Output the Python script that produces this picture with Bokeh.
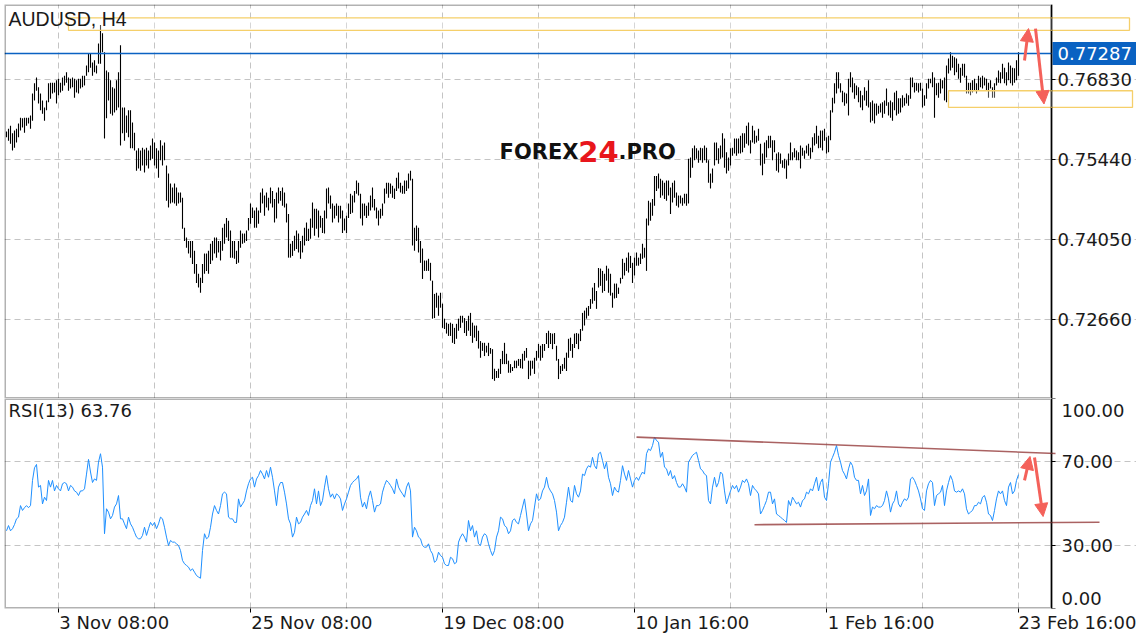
from bokeh.plotting import figure
from bokeh.layouts import column
from bokeh.models import (ColumnDataSource, FixedTicker, Range1d, Label, Arrow,
                          NormalHead, PolyAnnotation, BoxAnnotation, NumeralTickFormatter,
                          Grid, GlobalInlineStyleSheet)
from bokeh.embed import file_html
from bokeh.resources import INLINE

SYMBOL = "AUDUSD, H4"
LAST_CLOSE = 0.77287
RSI_LAST = 63.76

HIGH = [
    0.7593, 0.7598, 0.7603, 0.7590, 0.7595, 0.7598, 0.7607, 0.7617, 0.7616, 0.7617,
    0.7617, 0.7617, 0.7621, 0.7659, 0.7677, 0.7687, 0.7670, 0.7659, 0.7647, 0.7635,
    0.7647, 0.7677, 0.7678, 0.7678, 0.7678, 0.7682, 0.7685, 0.7678, 0.7687, 0.7690,
    0.7696, 0.7687, 0.7685, 0.7687, 0.7685, 0.7682, 0.7685, 0.7685, 0.7690, 0.7690,
    0.7708, 0.7729, 0.7729, 0.7713, 0.7717, 0.7708, 0.7746, 0.7778, 0.7764, 0.7731,
    0.7699, 0.7696, 0.7682, 0.7670, 0.7668, 0.7682, 0.7696, 0.7743, 0.7635, 0.7635,
    0.7621, 0.7630, 0.7630, 0.7609, 0.7591, 0.7560, 0.7564, 0.7560, 0.7565, 0.7562,
    0.7565, 0.7560, 0.7569, 0.7581, 0.7574, 0.7564, 0.7560, 0.7578, 0.7569, 0.7574,
    0.7534, 0.7520, 0.7503, 0.7496, 0.7503, 0.7496, 0.7487, 0.7487, 0.7478, 0.7426,
    0.7409, 0.7403, 0.7403, 0.7403, 0.7386, 0.7363, 0.7346, 0.7339, 0.7363, 0.7381,
    0.7381, 0.7386, 0.7398, 0.7403, 0.7409, 0.7409, 0.7403, 0.7403, 0.7426, 0.7433,
    0.7443, 0.7438, 0.7421, 0.7403, 0.7403, 0.7386, 0.7403, 0.7421, 0.7416, 0.7416,
    0.7421, 0.7443, 0.7468, 0.7461, 0.7456, 0.7461, 0.7456, 0.7487, 0.7494, 0.7482,
    0.7487, 0.7478, 0.7496, 0.7490, 0.7476, 0.7487, 0.7496, 0.7490, 0.7496, 0.7487,
    0.7468, 0.7450, 0.7398, 0.7403, 0.7412, 0.7421, 0.7416, 0.7403, 0.7412, 0.7426,
    0.7435, 0.7424, 0.7442, 0.7470, 0.7459, 0.7459, 0.7456, 0.7447, 0.7443, 0.7456,
    0.7494, 0.7496, 0.7482, 0.7468, 0.7464, 0.7468, 0.7464, 0.7464, 0.7456, 0.7442,
    0.7447, 0.7468, 0.7485, 0.7482, 0.7490, 0.7508, 0.7504, 0.7485, 0.7468, 0.7468,
    0.7464, 0.7470, 0.7482, 0.7496, 0.7476, 0.7461, 0.7456, 0.7459, 0.7468, 0.7494,
    0.7504, 0.7504, 0.7503, 0.7499, 0.7494, 0.7513, 0.7522, 0.7504, 0.7499, 0.7508,
    0.7508, 0.7520, 0.7525, 0.7511, 0.7426, 0.7430, 0.7426, 0.7403, 0.7390, 0.7369,
    0.7369, 0.7372, 0.7365, 0.7334, 0.7311, 0.7313, 0.7308, 0.7313, 0.7294, 0.7268,
    0.7261, 0.7259, 0.7261, 0.7259, 0.7252, 0.7259, 0.7268, 0.7273, 0.7273, 0.7269,
    0.7264, 0.7273, 0.7278, 0.7261, 0.7256, 0.7256, 0.7247, 0.7229, 0.7226, 0.7226,
    0.7221, 0.7226, 0.7217, 0.7215, 0.7181, 0.7177, 0.7181, 0.7198, 0.7212, 0.7226,
    0.7207, 0.7195, 0.7189, 0.7184, 0.7195, 0.7195, 0.7198, 0.7198, 0.7207, 0.7212,
    0.7217, 0.7195, 0.7195, 0.7195, 0.7200, 0.7212, 0.7224, 0.7221, 0.7224, 0.7224,
    0.7243, 0.7247, 0.7243, 0.7242, 0.7243, 0.7221, 0.7198, 0.7186, 0.7189, 0.7200,
    0.7209, 0.7233, 0.7235, 0.7224, 0.7242, 0.7243, 0.7242, 0.7250, 0.7278, 0.7282,
    0.7287, 0.7290, 0.7302, 0.7322, 0.7330, 0.7316, 0.7356, 0.7355, 0.7351, 0.7346,
    0.7360, 0.7355, 0.7346, 0.7313, 0.7329, 0.7329, 0.7322, 0.7339, 0.7372, 0.7365,
    0.7374, 0.7383, 0.7377, 0.7365, 0.7374, 0.7383, 0.7374, 0.7381, 0.7398, 0.7391,
    0.7442, 0.7473, 0.7470, 0.7476, 0.7516, 0.7516, 0.7520, 0.7511, 0.7508, 0.7504,
    0.7508, 0.7508, 0.7496, 0.7504, 0.7508, 0.7487, 0.7482, 0.7482, 0.7478, 0.7485,
    0.7485, 0.7546, 0.7548, 0.7564, 0.7569, 0.7564, 0.7560, 0.7565, 0.7564, 0.7569,
    0.7565, 0.7543, 0.7520, 0.7529, 0.7574, 0.7574, 0.7564, 0.7569, 0.7590, 0.7581,
    0.7557, 0.7548, 0.7564, 0.7565, 0.7581, 0.7581, 0.7581, 0.7586, 0.7590, 0.7590,
    0.7603, 0.7609, 0.7578, 0.7603, 0.7595, 0.7586, 0.7598, 0.7572, 0.7555, 0.7574,
    0.7578, 0.7586, 0.7586, 0.7578, 0.7578, 0.7555, 0.7557, 0.7555, 0.7543, 0.7546,
    0.7543, 0.7555, 0.7574, 0.7557, 0.7564, 0.7560, 0.7557, 0.7569, 0.7565, 0.7560,
    0.7569, 0.7572, 0.7565, 0.7583, 0.7590, 0.7603, 0.7586, 0.7595, 0.7595, 0.7598,
    0.7583, 0.7586, 0.7630, 0.7652, 0.7677, 0.7696, 0.7696, 0.7677, 0.7664, 0.7661,
    0.7659, 0.7685, 0.7696, 0.7687, 0.7677, 0.7673, 0.7670, 0.7664, 0.7656, 0.7670,
    0.7664, 0.7682, 0.7644, 0.7647, 0.7642, 0.7642, 0.7638, 0.7642, 0.7644, 0.7647,
    0.7668, 0.7644, 0.7647, 0.7644, 0.7661, 0.7664, 0.7651, 0.7651, 0.7656, 0.7652,
    0.7659, 0.7656, 0.7687, 0.7687, 0.7678, 0.7678, 0.7677, 0.7678, 0.7668, 0.7656,
    0.7677, 0.7685, 0.7685, 0.7696, 0.7687, 0.7677, 0.7678, 0.7685, 0.7682, 0.7687,
    0.7708, 0.7720, 0.7731, 0.7725, 0.7722, 0.7720, 0.7711, 0.7704, 0.7711, 0.7711,
    0.7690, 0.7678, 0.7678, 0.7682, 0.7685, 0.7677, 0.7690, 0.7687, 0.7690, 0.7687,
    0.7685, 0.7678, 0.7682, 0.7670, 0.7677, 0.7687, 0.7699, 0.7696, 0.7711, 0.7704,
    0.7696, 0.7713, 0.7708, 0.7704, 0.7703, 0.7717, 0.7731,
]

LOW = [
    0.7583, 0.7577, 0.7572, 0.7560, 0.7565, 0.7574, 0.7583, 0.7595, 0.7600, 0.7591,
    0.7603, 0.7607, 0.7598, 0.7612, 0.7647, 0.7664, 0.7642, 0.7630, 0.7624, 0.7612,
    0.7630, 0.7644, 0.7650, 0.7659, 0.7661, 0.7642, 0.7656, 0.7661, 0.7664, 0.7673,
    0.7678, 0.7664, 0.7668, 0.7670, 0.7652, 0.7661, 0.7659, 0.7668, 0.7670, 0.7673,
    0.7690, 0.7696, 0.7704, 0.7690, 0.7696, 0.7694, 0.7711, 0.7711, 0.7731, 0.7581,
    0.7616, 0.7647, 0.7624, 0.7621, 0.7626, 0.7630, 0.7635, 0.7569, 0.7590, 0.7577,
    0.7591, 0.7583, 0.7564, 0.7564, 0.7560, 0.7525, 0.7529, 0.7525, 0.7534, 0.7522,
    0.7534, 0.7529, 0.7543, 0.7546, 0.7534, 0.7529, 0.7513, 0.7543, 0.7534, 0.7543,
    0.7473, 0.7461, 0.7468, 0.7470, 0.7468, 0.7464, 0.7468, 0.7470, 0.7424, 0.7403,
    0.7391, 0.7381, 0.7374, 0.7363, 0.7346, 0.7330, 0.7322, 0.7313, 0.7330, 0.7346,
    0.7351, 0.7346, 0.7363, 0.7369, 0.7381, 0.7374, 0.7383, 0.7369, 0.7386, 0.7398,
    0.7409, 0.7403, 0.7374, 0.7374, 0.7372, 0.7363, 0.7365, 0.7391, 0.7398, 0.7400,
    0.7403, 0.7421, 0.7433, 0.7443, 0.7426, 0.7426, 0.7433, 0.7452, 0.7468, 0.7447,
    0.7461, 0.7456, 0.7468, 0.7461, 0.7435, 0.7442, 0.7468, 0.7473, 0.7464, 0.7461,
    0.7435, 0.7374, 0.7374, 0.7377, 0.7386, 0.7389, 0.7383, 0.7372, 0.7383, 0.7395,
    0.7403, 0.7403, 0.7407, 0.7426, 0.7412, 0.7424, 0.7409, 0.7426, 0.7417, 0.7416,
    0.7442, 0.7468, 0.7459, 0.7435, 0.7442, 0.7447, 0.7435, 0.7442, 0.7417, 0.7421,
    0.7417, 0.7443, 0.7450, 0.7452, 0.7470, 0.7485, 0.7482, 0.7442, 0.7430, 0.7447,
    0.7443, 0.7447, 0.7456, 0.7461, 0.7456, 0.7442, 0.7430, 0.7442, 0.7447, 0.7468,
    0.7485, 0.7478, 0.7485, 0.7478, 0.7476, 0.7490, 0.7494, 0.7487, 0.7485, 0.7485,
    0.7490, 0.7494, 0.7508, 0.7395, 0.7386, 0.7403, 0.7383, 0.7365, 0.7337, 0.7351,
    0.7351, 0.7351, 0.7334, 0.7268, 0.7269, 0.7287, 0.7273, 0.7287, 0.7252, 0.7250,
    0.7242, 0.7238, 0.7238, 0.7226, 0.7224, 0.7233, 0.7247, 0.7252, 0.7261, 0.7243,
    0.7238, 0.7247, 0.7238, 0.7226, 0.7235, 0.7229, 0.7216, 0.7200, 0.7212, 0.7203,
    0.7209, 0.7203, 0.7207, 0.7163, 0.7160, 0.7165, 0.7165, 0.7172, 0.7189, 0.7189,
    0.7189, 0.7174, 0.7174, 0.7177, 0.7182, 0.7182, 0.7186, 0.7182, 0.7181, 0.7195,
    0.7200, 0.7163, 0.7169, 0.7181, 0.7172, 0.7195, 0.7200, 0.7195, 0.7200, 0.7212,
    0.7224, 0.7217, 0.7224, 0.7215, 0.7224, 0.7195, 0.7163, 0.7172, 0.7177, 0.7181,
    0.7177, 0.7200, 0.7212, 0.7200, 0.7217, 0.7224, 0.7215, 0.7229, 0.7247, 0.7256,
    0.7268, 0.7273, 0.7285, 0.7294, 0.7299, 0.7285, 0.7322, 0.7325, 0.7313, 0.7316,
    0.7334, 0.7313, 0.7308, 0.7287, 0.7303, 0.7304, 0.7311, 0.7329, 0.7337, 0.7343,
    0.7351, 0.7348, 0.7356, 0.7330, 0.7343, 0.7360, 0.7360, 0.7363, 0.7372, 0.7374,
    0.7351, 0.7430, 0.7438, 0.7447, 0.7464, 0.7490, 0.7494, 0.7478, 0.7482, 0.7476,
    0.7473, 0.7482, 0.7450, 0.7470, 0.7478, 0.7464, 0.7461, 0.7468, 0.7464, 0.7468,
    0.7464, 0.7468, 0.7513, 0.7530, 0.7543, 0.7546, 0.7539, 0.7543, 0.7539, 0.7543,
    0.7539, 0.7504, 0.7494, 0.7504, 0.7534, 0.7543, 0.7537, 0.7546, 0.7548, 0.7530,
    0.7520, 0.7525, 0.7534, 0.7551, 0.7555, 0.7551, 0.7555, 0.7555, 0.7557, 0.7565,
    0.7572, 0.7569, 0.7555, 0.7574, 0.7572, 0.7574, 0.7577, 0.7534, 0.7517, 0.7537,
    0.7548, 0.7564, 0.7565, 0.7543, 0.7557, 0.7525, 0.7522, 0.7537, 0.7530, 0.7529,
    0.7511, 0.7534, 0.7543, 0.7543, 0.7548, 0.7543, 0.7543, 0.7529, 0.7551, 0.7546,
    0.7555, 0.7551, 0.7546, 0.7557, 0.7569, 0.7572, 0.7564, 0.7565, 0.7560, 0.7577,
    0.7555, 0.7557, 0.7578, 0.7626, 0.7642, 0.7659, 0.7668, 0.7661, 0.7644, 0.7638,
    0.7642, 0.7621, 0.7670, 0.7661, 0.7650, 0.7656, 0.7644, 0.7635, 0.7630, 0.7647,
    0.7638, 0.7635, 0.7609, 0.7612, 0.7607, 0.7621, 0.7624, 0.7626, 0.7617, 0.7624,
    0.7638, 0.7621, 0.7617, 0.7612, 0.7630, 0.7621, 0.7624, 0.7626, 0.7635, 0.7638,
    0.7642, 0.7638, 0.7650, 0.7670, 0.7661, 0.7664, 0.7661, 0.7664, 0.7635, 0.7638,
    0.7650, 0.7668, 0.7677, 0.7670, 0.7617, 0.7656, 0.7652, 0.7659, 0.7668, 0.7647,
    0.7644, 0.7694, 0.7699, 0.7704, 0.7691, 0.7696, 0.7685, 0.7678, 0.7690, 0.7687,
    0.7659, 0.7659, 0.7656, 0.7661, 0.7664, 0.7659, 0.7664, 0.7670, 0.7668, 0.7673,
    0.7664, 0.7652, 0.7668, 0.7652, 0.7652, 0.7673, 0.7678, 0.7677, 0.7685, 0.7677,
    0.7673, 0.7682, 0.7677, 0.7673, 0.7678, 0.7682, 0.7690,
]

RSI = [
    37, 39.5, 37, 38, 40, 42.7, 43.5, 49, 46.7, 48,
    49, 48, 49, 61, 67, 68.6, 57.8, 58.6, 49.8, 53,
    51.4, 61, 57.8, 61, 56, 58.6, 57, 56, 59.4, 60,
    59.4, 56, 58.6, 57.8, 56, 55.4, 53.8, 56, 56, 57,
    64, 71, 65, 60, 61.7, 61, 69.7, 73.7, 67.3, 35.6,
    47.5, 45.9, 42.7, 44.3, 48.3, 49.8, 53.8, 42.7, 42.7, 40.3,
    38, 43.5, 40.3, 38.7, 36.3, 34, 33.2, 33.2, 34.8, 38.7,
    34.8, 38, 41, 39.5, 41, 38, 40.3, 43.5, 42.7, 38.7,
    34, 30, 32.4, 31.6, 31.6, 30.8, 30, 27.6, 22.9, 21.3,
    20.5, 19.7, 18, 18.9, 17.3, 15.7, 15, 14.4, 27.6, 35.6,
    33.2, 34, 38.7, 45, 49, 46.7, 45, 49, 54.6, 55.4,
    54.6, 43.5, 42.7, 42.7, 41, 41, 52.2, 48.3, 49.8, 51.4,
    56, 59.4, 61.7, 62.5, 57.8, 61.7, 63.3, 65.7, 64, 61.7,
    65.7, 62.5, 67.3, 62.5, 56, 49, 57.8, 60, 60, 55.4,
    49.8, 42.7, 40.3, 34, 36.3, 43.5, 40.3, 41, 43.5, 45,
    46.7, 44.3, 49, 51.4, 57, 49.8, 56, 49, 51.4, 57.8,
    63.3, 57, 53, 54.6, 52.2, 54.6, 53.8, 52.2, 46.7, 49.8,
    52.2, 55.4, 58.6, 60, 61, 61.7, 63.3, 53, 48.3, 50.6,
    47.5, 53, 56, 51.4, 45.9, 49, 49, 49.8, 55.4, 58.6,
    61, 60, 58.6, 57, 54.6, 61.7, 57.8, 56, 54.6, 53,
    57.8, 60, 56, 34, 38.7, 37, 34, 33.2, 30, 29.2,
    29.2, 30.8, 27.6, 26, 22, 22.9, 26.8, 25.2, 24.4, 21.3,
    20.5, 20.5, 24.4, 23.7, 21.3, 22, 31.6, 34, 35.6, 34,
    31.6, 41.9, 37, 39.5, 34, 37, 30.8, 30, 34, 35.6,
    34.8, 30.8, 27.6, 25.2, 27.6, 34, 37, 43.5, 42.7, 39.5,
    38.7, 35.6, 37, 41.9, 42.7, 41, 40.3, 44.3, 48.3, 52.2,
    45, 37, 40.3, 41.9, 48.3, 54.6, 51.4, 52.2, 56, 57.8,
    62.5, 57.8, 56, 54.6, 51.4, 45.9, 37, 39.5, 41, 43.5,
    50.6, 57.8, 51.4, 50.6, 58.6, 54.6, 53, 56, 64, 63.3,
    66.5, 68, 67.3, 72, 68, 66.5, 73.7, 74.4, 70.5, 66.5,
    69.7, 62.5, 59.4, 53.8, 57.8, 56, 55.4, 61, 68, 64,
    61, 65.7, 61.7, 57.8, 61, 62.5, 61, 63.3, 65, 64,
    73.7, 76, 75.2, 77.6, 81.6, 80, 79.2, 72, 74.4, 67.3,
    66.5, 63.3, 65.7, 61.7, 63.3, 60, 57.8, 57.8, 59.4, 57.8,
    55.4, 69.7, 71.3, 72.9, 73.7, 74.4, 70.5, 66.5, 65.7, 64,
    63.3, 51.4, 49.8, 57.8, 62.5, 57.8, 60, 65, 64, 56,
    49.8, 53, 56, 58.6, 57, 58.6, 55.4, 57.8, 61, 60,
    61.7, 59.4, 53.8, 58.6, 57, 56, 54.6, 45, 46.7, 49,
    51.4, 55.4, 55.4, 49.8, 52.2, 45, 44.3, 43.5, 42.7, 41.9,
    41, 51.4, 49, 53, 51.4, 49.8, 50.6, 48.3, 51.4, 52.2,
    55.4, 54.6, 57, 56, 59.4, 62.5, 56, 60, 61.7, 53,
    51.4, 59.4, 69.7, 72, 74.4, 77.6, 72.9, 69.7, 65.7, 64,
    61.7, 66.5, 69.7, 68, 62.5, 61, 61, 54.6, 58.6, 53.8,
    56, 61.7, 44.3, 48.3, 47.5, 49, 48.3, 48.3, 49, 51.4,
    56, 52.2, 45.9, 49.8, 51.4, 56, 49.8, 48.3, 50.6, 52.2,
    51.4, 53, 61.7, 62.5, 61, 58.6, 56, 52.2, 47.5, 46.7,
    56, 59.4, 61, 60, 49, 53.8, 54.6, 55.4, 58.6, 49,
    56, 60, 63.3, 61, 56, 55.4, 56, 55.4, 57, 54.6,
    47.5, 45, 45.9, 46.7, 49, 49, 50.6, 49.8, 53, 53.8,
    50.6, 45, 44.3, 41.9, 46.7, 52.2, 56, 54.6, 56, 51.4,
    49, 57.8, 60, 54.6, 56, 61, 63.76,
]

PRICE_TICKS = [0.7266, 0.7405, 0.7544, 0.7683]
RSI_GRID = [30, 70]
RSI_TICKS = [0, 30, 70, 100]
DATE_TICKS = [26, 122, 218, 314, 410, 506]
DATE_LABELS = ["3 Nov 08:00", "25 Nov 08:00", "19 Dec 08:00", "10 Jan 16:00",
               "1 Feb 16:00", "23 Feb 16:00"]
GRID_X = [26, 74, 122, 170, 218, 266, 314, 362, 410, 458, 506]

# analyst markup (bar index / price / RSI units)
RESIST_ZONE = (31, 561.5, 0.7769, 0.77905)
SUPPORT_ZONE = (471, 563, 0.7635, 0.7664)
RSI_UPPER = (315, 81.6, 524.5, 73.8)
RSI_LOWER = (374, 39.9, 546.5, 41.1)
PRICE_ARROWS = [(509, 0.77166, 511, 0.7772), (514.5, 0.7772, 518.75, 0.7641)]
RSI_ARROWS = [(509, 61, 511.75, 72.4), (514, 71.9, 518.3, 43.8)]

# layout constants (bar-index units); the right price scale sits after the last bars
AXIS_AT = 522.5
X_START, X_END = -1, 565
LABEL_HALF = [27.9, 30.7, 30.7, 28.9, 27.3, 30.2]   # half label widths -> left aligned dates

AX_FONT = "DejaVu Sans"
AX_SIZE = "18px"
TXT = "#1a1a1a"
GRID_C = "#c4c4c4"
ARROW_C = "#f4615a"
TREND_C = "#9b4646"
BLUE = "#0a62c2"
ZONE_C = "#f5cf6a"

x_rng = Range1d(X_START, X_END)

src = ColumnDataSource(dict(i=list(range(len(HIGH))), high=HIGH, low=LOW))
rsrc = ColumnDataSource(dict(i=list(range(len(RSI))), rsi=RSI))


def style_common(p):
    p.grid.visible = False
    p.outline_line_color = None
    p.background_fill_color = "white"
    p.border_fill_color = "white"
    p.add_layout(Grid(dimension=0, ticker=FixedTicker(ticks=GRID_X),
                      grid_line_color=GRID_C, grid_line_dash="6 4", grid_line_width=1))


def style_yaxis(a):
    a.fixed_location = AXIS_AT
    a.major_label_text_font = AX_FONT
    a.major_label_text_font_size = AX_SIZE
    a.major_label_text_color = TXT
    a.major_tick_in = 0
    a.minor_tick_in = 0
    a.axis_line_color = "black"
    a.axis_line_width = 1.2


def frame_border(p):
    p.add_layout(BoxAnnotation(right=AXIS_AT, fill_alpha=0, line_color="black",
                               line_width=3, level="overlay"))


pp = figure(frame_width=1132, frame_height=394, x_range=x_rng,
            y_range=Range1d(0.712926, 0.781383), output_backend="svg",
            toolbar_location=None, y_axis_location="right", x_axis_location=None,
            min_border_left=0, min_border_top=0, min_border_bottom=0, min_border_right=0)
style_common(pp)
pp.add_layout(Grid(dimension=1, ticker=FixedTicker(ticks=PRICE_TICKS), bounds=(X_START, AXIS_AT),
                   grid_line_color=GRID_C, grid_line_dash="6 4", grid_line_width=1))
ya = pp.yaxis[0]
style_yaxis(ya)
ya.ticker = FixedTicker(ticks=PRICE_TICKS)
ya.formatter = NumeralTickFormatter(format="0.00000")
ya.major_tick_out = 4
ya.minor_tick_out = 0
ya.major_label_standoff = 2

pp.segment(x0="i", y0="low", x1="i", y1="high", source=src, line_color="black", line_width=1.1)

for (x0, x1, y0, y1) in (RESIST_ZONE, SUPPORT_ZONE):
    pp.add_layout(PolyAnnotation(xs=[x0, x1, x1, x0], ys=[y0, y0, y1, y1],
                                 fill_color="white", fill_alpha=0.3,
                                 line_color=ZONE_C, line_alpha=1.0, line_width=1.3))

# last price line, ending at the price scale
pp.add_layout(Arrow(end=None, x_start=X_START, y_start=LAST_CLOSE, x_end=AXIS_AT,
                    y_end=LAST_CLOSE, line_color=BLUE, line_width=1.6))

for (xs, ys, xe, ye) in PRICE_ARROWS:
    pp.add_layout(Arrow(end=NormalHead(size=13, fill_color=ARROW_C, line_color=ARROW_C),
                        x_start=xs, y_start=ys, x_end=xe, y_end=ye,
                        line_color=ARROW_C, line_width=3))

pp.add_layout(Label(x=1, y=0.78069, text=SYMBOL, text_baseline="top", text_align="left",
                    text_font="Liberation Sans", text_font_size="19.5px", text_color=TXT))
pp.add_layout(Label(x=523, y=LAST_CLOSE, text=f"{LAST_CLOSE:.5f}", text_baseline="middle",
                    text_align="left", text_font=AX_FONT, text_font_size=AX_SIZE,
                    text_color="white", background_fill_color=BLUE, padding=5))

WM_BASE = 0.75579
pp.add_layout(Label(x=286, y=WM_BASE, text="FOREX", text_align="right",
                    text_baseline="alphabetic", text_font="DejaVu Sans",
                    text_font_style="bold", text_font_size="21px", text_color="#111111"))
pp.add_layout(Label(x=296, y=WM_BASE, text="24", text_align="center",
                    text_baseline="alphabetic", text_font="DejaVu Sans",
                    text_font_style="bold", text_font_size="29px", text_color="#e8161c"))
pp.add_layout(Label(x=306, y=WM_BASE, text=".PRO", text_align="left",
                    text_baseline="alphabetic", text_font="DejaVu Sans",
                    text_font_style="bold", text_font_size="21px", text_color="#111111"))
frame_border(pp)

pr = figure(frame_width=1132, frame_height=210, x_range=x_rng, y_range=Range1d(0, 100),
            output_backend="svg", toolbar_location=None, y_axis_location="right",
            x_axis_location="below", min_border_left=0, min_border_top=0,
            min_border_bottom=32, min_border_right=0)
style_common(pr)
pr.add_layout(Grid(dimension=1, ticker=FixedTicker(ticks=RSI_GRID), bounds=(X_START, AXIS_AT),
                   grid_line_color=GRID_C, grid_line_dash="6 4", grid_line_width=1))
ra = pr.yaxis[0]
style_yaxis(ra)
ra.ticker = FixedTicker(ticks=[4.6, 30, 70, 94.5], minor_ticks=RSI_TICKS)
ra.formatter = NumeralTickFormatter(format="0.00")
ra.major_label_overrides = {4.6: "0.00", 94.5: "100.00"}
ra.major_tick_out = 0
ra.minor_tick_out = 4
ra.minor_tick_line_color = "black"
ra.major_label_standoff = 6

label_pos = [t + h for t, h in zip(DATE_TICKS, LABEL_HALF)]
xa = pr.xaxis[0]
xa.ticker = FixedTicker(ticks=label_pos, minor_ticks=DATE_TICKS)
xa.major_label_overrides = dict(zip(label_pos, DATE_LABELS))
xa.major_label_text_font = AX_FONT
xa.major_label_text_font_size = AX_SIZE
xa.major_label_text_color = TXT
xa.major_tick_out = 0
xa.major_tick_in = 0
xa.minor_tick_out = 4
xa.minor_tick_in = 0
xa.minor_tick_line_color = "black"
xa.major_label_standoff = -1
xa.axis_line_color = None

pr.line(x="i", y="rsi", source=rsrc, line_color="#1e8fff", line_width=1)

for (xs, ys, xe, ye) in (RSI_UPPER, RSI_LOWER):
    pr.add_layout(Arrow(end=None, x_start=xs, y_start=ys, x_end=xe, y_end=ye,
                        line_color=TREND_C, line_width=1.6, line_alpha=0.85))
for (xs, ys, xe, ye) in RSI_ARROWS:
    pr.add_layout(Arrow(end=NormalHead(size=13, fill_color=ARROW_C, line_color=ARROW_C),
                        x_start=xs, y_start=ys, x_end=xe, y_end=ye,
                        line_color=ARROW_C, line_width=3))

pr.add_layout(Label(x=1, y=99.1, text=f"RSI(13) {RSI_LAST:.2f}", text_baseline="top",
                    text_align="left", text_font=AX_FONT, text_font_size=AX_SIZE,
                    text_color=TXT))
frame_border(pr)

layout = column(pp, pr, margin=(4, 0, 0, 4),
                stylesheets=[GlobalInlineStyleSheet(css="html, body { overflow: hidden !important; }")])

open("out.html", "w").write(file_html(layout, INLINE))
